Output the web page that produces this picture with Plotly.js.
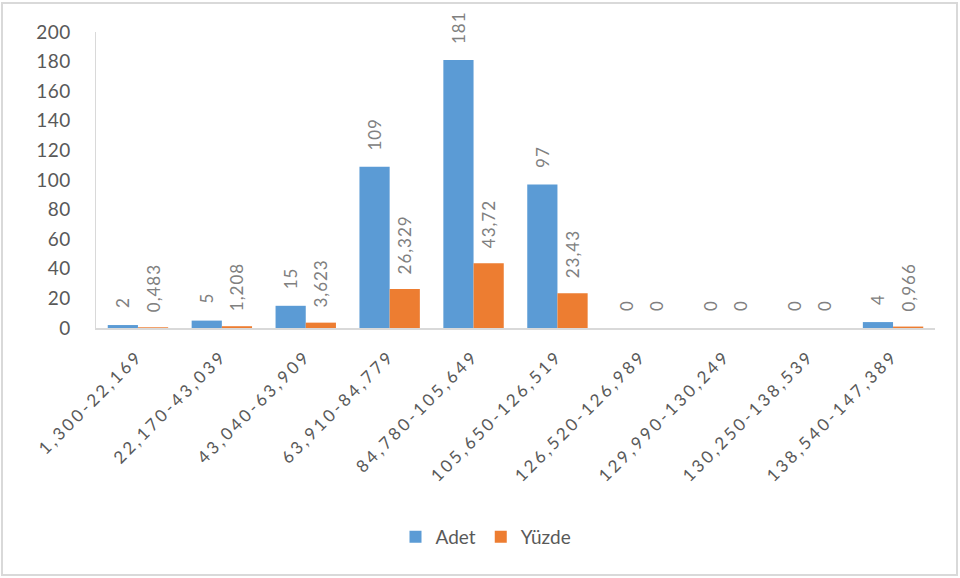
<!DOCTYPE html>
<html>
<head>
<meta charset="utf-8">
<script src="https://cdn.plot.ly/plotly-3.0.1.min.js"></script>
<style>
  html, body { margin: 0; padding: 0; background: #fff; }
  #chart { width: 960px; height: 578px; }
  /* wider tracking on axis and bar labels */
  #chart .xtick text { letter-spacing: 3px; }
  #chart .ytick text { letter-spacing: 0.5px; }
  #chart .bartext { letter-spacing: 1px; }
</style>
</head>
<body>
<div id="chart"></div>
<script>
// Gelir aralıkları (kategori etiketleri)
const categories = [
  "1,300-22,169", "22,170-43,039", "43,040-63,909", "63,910-84,779",
  "84,780-105,649", "105,650-126,519", "126,520-126,989",
  "129,990-130,249", "130,250-138,539", "138,540-147,389"
];
// Her aralıktaki adet
const adet = [2, 5, 15, 109, 181, 97, 0, 0, 0, 4];
// Yüzde dağılımı
const yuzde = [0.483, 1.208, 3.623, 26.329, 43.72, 23.43, 0, 0, 0, 0.966];
const yTicks = [0, 20, 40, 60, 80, 100, 120, 140, 160, 180, 200];

// Ondalık ayırıcı olarak virgül; baştaki boşluklar etiketi çubuktan biraz uzaklaştırır
const PAD = '\u00a0\u00a0\u00a0';
const fmt = v => PAD + String(v).replace('.', ',');

const textGray = '#595959';
const FAMILY = 'Lato, "Noto Sans", sans-serif';
const labelFont = { family: FAMILY, size: 17, color: '#808080' };

const traces = [
  {
    type: 'bar', name: 'Adet', x: categories, y: adet,
    marker: { color: '#5b9bd5' },
    text: adet.map(fmt), textposition: 'outside', textangle: -90,
    constraintext: 'none',
    textfont: labelFont, cliponaxis: false, hoverinfo: 'x+y'
  },
  {
    type: 'bar', name: 'Yüzde', x: categories, y: yuzde,
    marker: { color: '#ed7d31' },
    text: yuzde.map(fmt), textposition: 'outside', textangle: -90,
    constraintext: 'none',
    textfont: labelFont, cliponaxis: false, hoverinfo: 'x+y'
  }
];

const M = { l: 96, r: 25, t: 32, b: 250 };
const W = 960, H = 578;
const pw = W - M.l - M.r, ph = H - M.t - M.b;
// paper coordinates of the outer frame
const px = x => (x - M.l) / pw;
const py = y => (H - M.b - y) / ph;

const layout = {
  width: W, height: H,
  margin: M,
  paper_bgcolor: '#fff', plot_bgcolor: '#fff',
  font: { family: FAMILY, color: textGray },
  barmode: 'group', bargap: 0.28, bargroupgap: 0,
  showlegend: true,
  legend: {
    orientation: 'h', x: px(486), xanchor: 'center', y: py(537), yanchor: 'middle',
    font: { size: 19, color: textGray }, traceorder: 'normal', itemwidth: 30
  },
  xaxis: {
    type: 'category', tickangle: -45,
    tickfont: { size: 17, color: textGray },
    showline: true, linecolor: '#d9d9d9', linewidth: 1.5,
    ticks: 'outside', ticklen: 10, tickcolor: 'rgba(0,0,0,0)',
    showgrid: false, zeroline: false, fixedrange: true
  },
  yaxis: {
    range: [0, 200], tickvals: yTicks,
    tickfont: { size: 19, color: textGray },
    showline: true, linecolor: '#d9d9d9', linewidth: 1.5,
    ticks: 'outside', ticklen: 20, tickcolor: 'rgba(0,0,0,0)',
    showgrid: false, zeroline: false, fixedrange: true
  },
  shapes: [{
    type: 'rect', xref: 'paper', yref: 'paper',
    x0: px(2), x1: px(957), y0: py(3), y1: py(575),
    line: { color: '#d9d9d9', width: 2 }, fillcolor: 'rgba(0,0,0,0)', layer: 'below'
  }]
};

Plotly.newPlot('chart', traces, layout, { displayModeBar: false, staticPlot: true });
</script>
</body>
</html>
